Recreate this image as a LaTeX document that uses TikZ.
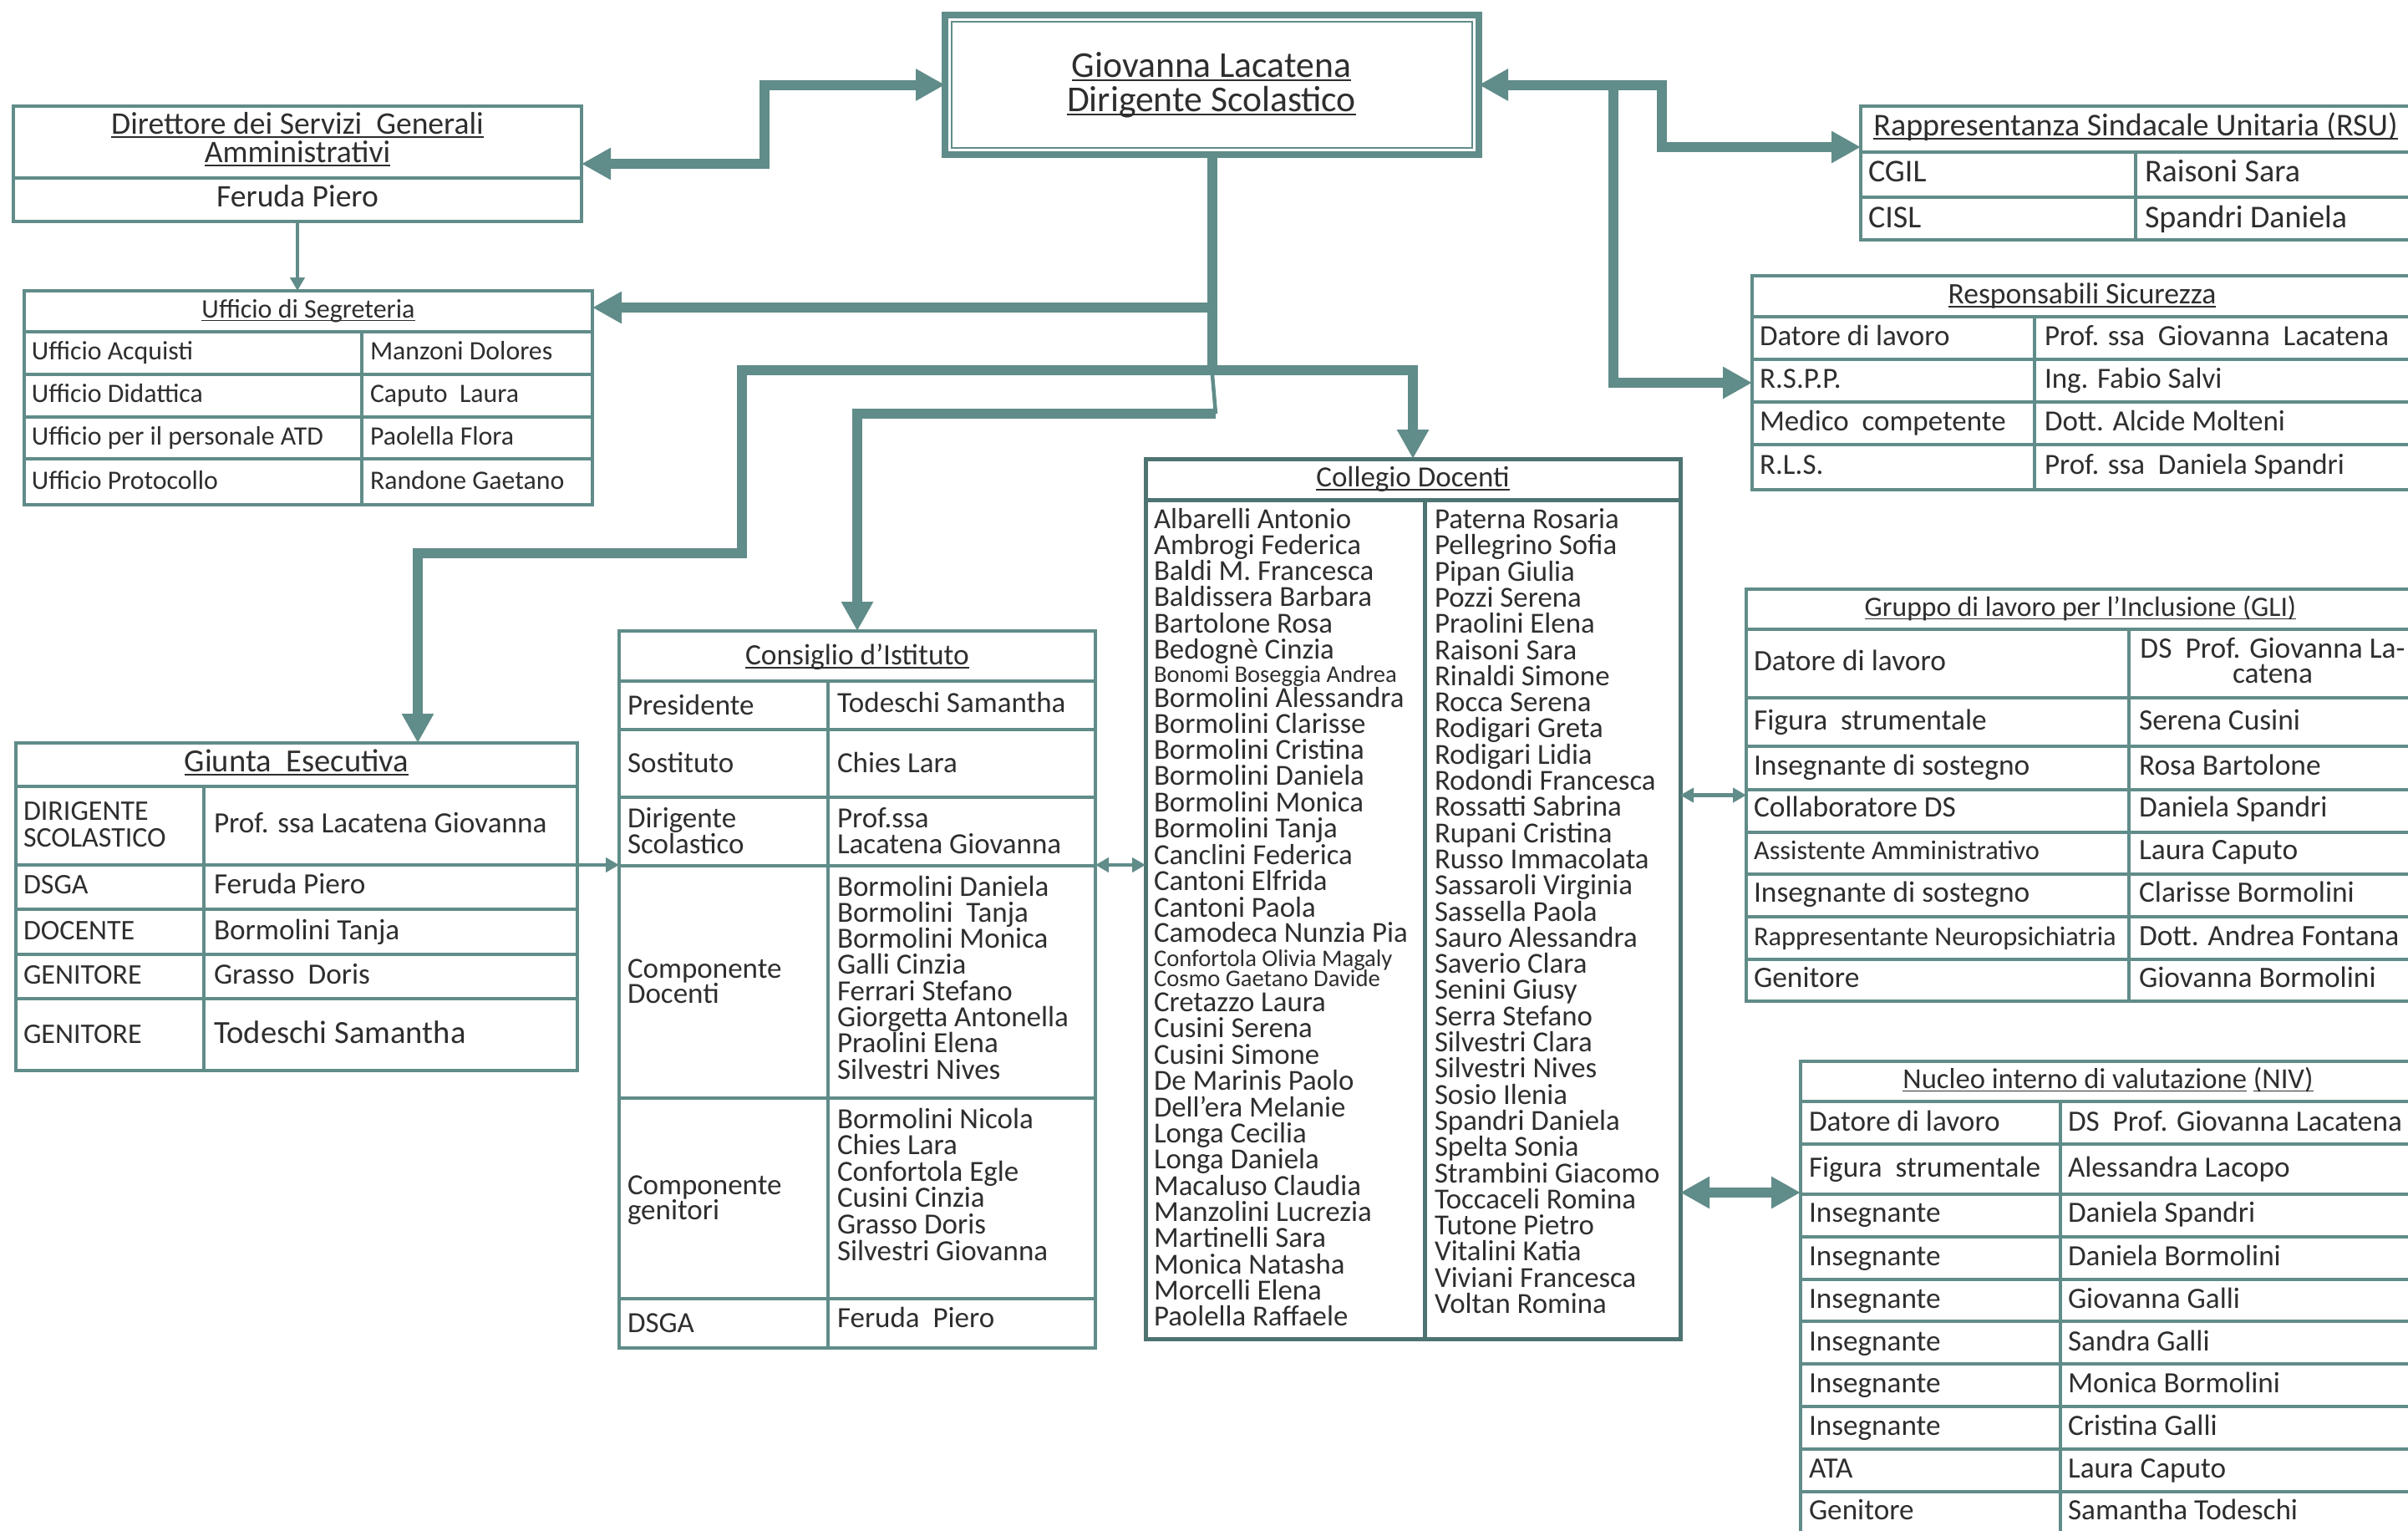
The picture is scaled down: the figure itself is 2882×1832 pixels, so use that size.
\documentclass[tikz,border=0pt]{standalone}
\usepackage{fontspec}
\setmainfont{Carlito}
\usetikzlibrary{arrows.meta}
\definecolor{tl}{RGB}{96,140,137}
\definecolor{tld}{RGB}{78,116,114}
\definecolor{txc}{RGB}{46,46,46}
\newcommand{\UL}[1]{\setbox0=\hbox{#1}\rlap{\vrule height -0.08em depth \dimexpr0.08em+0.85pt\relax width \wd0}\box0\relax}
\newcounter{txn}
\newcommand{\Tx}[4]{\stepcounter{txn}\node[txt,anchor=base west] (tx\arabic{txn}) at (#1,#2) {\fontsize{#3}{#3}\selectfont #4};}
\newcommand{\Tc}[4]{\stepcounter{txn}\node[txt,anchor=base] (tx\arabic{txn}) at (#1,#2) {\fontsize{#3}{#3}\selectfont #4};}
\newcommand{\Bx}[6][]{\node[boxst,#1,anchor=north west,minimum width={(#5-#3)*0.5pt},minimum height={(#6-#4)*0.5pt}] (#2) at (#3,#4) {};}
\newcommand{\HL}[4][]{\draw[tbl,#1] (#2,#4) -- (#3,#4);}
\newcommand{\VL}[4][]{\draw[tbl,#1] (#2,#3) -- (#2,#4);}
\tikzset{
  txt/.style={inner sep=0pt,outer sep=0pt,text=txc},
  boxst/.style={draw=tl,line width=2.25pt,inner sep=0pt,outer sep=0pt,fill=white},
  tbl/.style={draw=tl,line width=2.25pt},
  big/.style={draw=tl,line width=6pt},
  bigR/.style={big,-{Triangle[length=17.5pt,width=18pt]}},
  bigLR/.style={big,{Triangle[length=17.5pt,width=18pt]}-{Triangle[length=17.5pt,width=18pt]}},
  thn/.style={draw=tl,line width=2.25pt},
  thnR/.style={thn,-{Triangle[length=8pt,width=8.5pt]}},
  thnLR/.style={thn,{Triangle[length=8pt,width=8.5pt]}-{Triangle[length=8pt,width=8.5pt]}},
}
\begin{document}
\begin{tikzpicture}[x=0.5pt,y=-0.5pt]
\useasboundingbox (0,0) rectangle (2882,1832);
\fill[white] (0,0) rectangle (2882,1832);
\clip (0,0) rectangle (2882,1832);

% ---------- boxes ----------
\Bx[line width=4pt]{ds}{1131}{18}{1770}{185}
\draw[tl,line width=1pt] (1139,26) rectangle (1762,177);
\Tc{1450}{92}{21.8pt}{\UL{Giovanna Lacatena}}
\Tc{1450}{133}{21.8pt}{\UL{Dirigente Scolastico}}

% Direttore
\Bx{dir}{16}{127}{696}{265}
\HL{16}{696}{213}
\Tc{356}{160}{18.8pt}{\UL{Direttore dei Servizi~~Generali}}
\Tc{356}{194}{18.8pt}{\UL{Amministrativi}}
\Tc{356}{247}{18.8pt}{Feruda Piero}

% Ufficio di Segreteria
\Bx{uff}{29}{348}{709}{604}
\HL{29}{709}{397}\HL{29}{709}{448}\HL{29}{709}{499}\HL{29}{709}{549}
\VL{433}{397}{604}
\Tc{369}{380}{16pt}{\UL{Ufficio di Segreteria}}
\Tx{38}{430}{15.9pt}{Ufficio Acquisti}\Tx{443}{430}{15.9pt}{Manzoni Dolores}
\Tx{38}{481}{15.9pt}{Ufficio Didattica}\Tx{443}{481}{15.9pt}{Caputo~~Laura}
\Tx{38}{532}{15.9pt}{Ufficio per il personale ATD}\Tx{443}{532}{15.9pt}{Paolella Flora}
\Tx{38}{585}{15.9pt}{Ufficio Protocollo}\Tx{443}{585}{15.9pt}{Randone Gaetano}

% Giunta Esecutiva
\Bx{giu}{19}{889}{691}{1281}
\HL{19}{691}{941}\HL{19}{691}{1035}\HL{19}{691}{1088}\HL{19}{691}{1142}\HL{19}{691}{1195}
\VL{244}{941}{1281}
\Tc{355}{923}{19.3pt}{\UL{Giunta~~Esecutiva}}
\Tx{28}{981}{17pt}{DIRIGENTE}\Tx{28}{1013}{17pt}{SCOLASTICO}
\Tx{256}{996}{17.6pt}{Prof. ssa Lacatena Giovanna}
\Tx{28}{1069}{17pt}{DSGA}\Tx{256}{1069}{17.6pt}{Feruda Piero}
\Tx{28}{1124}{17pt}{DOCENTE}\Tx{256}{1124}{17.6pt}{Bormolini Tanja}
\Tx{28}{1177}{17pt}{GENITORE}\Tx{256}{1177}{17.6pt}{Grasso~~Doris}
\Tx{28}{1248}{17pt}{GENITORE}\Tx{256}{1248}{19.3pt}{Todeschi Samantha}

% Consiglio d'Istituto
\Bx{con}{741}{755}{1311}{1613}
\HL{741}{1311}{815}\HL{741}{1311}{873}\HL{741}{1311}{954}\HL{741}{1311}{1036}\HL{741}{1311}{1314}\HL{741}{1311}{1554}
\VL{991}{815}{1613}
\Tc{1026}{795}{17.7pt}{\UL{Consiglio d’Istituto}}
\Tx{751}{855}{17.5pt}{Presidente}\Tx{1002}{852}{17.5pt}{Todeschi Samantha}
\Tx{751}{924}{17.5pt}{Sostituto}\Tx{1002}{924}{17.5pt}{Chies Lara}
\Tx{751}{990}{17.5pt}{Dirigente}\Tx{751}{1021}{17.5pt}{Scolastico}
\Tx{1002}{990}{17.5pt}{Prof.ssa}\Tx{1002}{1021}{17.5pt}{Lacatena Giovanna}
\Tx{751}{1170}{17.5pt}{Componente}\Tx{751}{1200}{17.5pt}{Docenti}
\foreach \n [count=\i from 0] in {Bormolini Daniela,Bormolini~~Tanja,Bormolini Monica,Galli Cinzia,Ferrari Stefano,Giorgetta Antonella,Praolini Elena,Silvestri Nives}
  {\Tx{1002}{1072+31.3*\i}{17.5pt}{\n}}
\Tx{751}{1429}{17.5pt}{Componente}\Tx{751}{1459}{17.5pt}{genitori}
\foreach \n [count=\i from 0] in {Bormolini Nicola,Chies Lara,Confortola Egle,Cusini Cinzia,Grasso Doris,Silvestri Giovanna}
  {\Tx{1002}{1350+31.6*\i}{17.5pt}{\n}}
\Tx{751}{1594}{17.5pt}{DSGA}\Tx{1002}{1588}{17.5pt}{Feruda~~Piero}

% Collegio Docenti
\Bx[draw=tld,line width=2.5pt]{col}{1371}{549}{2011}{1602}
\HL[draw=tld,line width=2.5pt]{1371}{2011}{598}
\VL[draw=tld,line width=2.5pt]{1705}{598}{1602}
\Tc{1691}{582}{17.5pt}{\UL{Collegio Docenti}}
\foreach \y/\n/\s in {632/Albarelli Antonio/17.4pt,663/Ambrogi Federica/17.4pt,694/Baldi M. Francesca/17.4pt,725/Baldissera Barbara/17.4pt,757/Bartolone Rosa/17.4pt,788/Bedognè Cinzia/17.4pt,816/Bonomi Boseggia Andrea/14.3pt,846/Bormolini Alessandra/17.4pt,877/Bormolini Clarisse/17.4pt,908/Bormolini Cristina/17.4pt,939/Bormolini Daniela/17.4pt,971/Bormolini Monica/17.4pt,1002/Bormolini Tanja/17.4pt,1034/Canclini Federica/17.4pt,1065/Cantoni Elfrida/17.4pt,1097/Cantoni Paola/17.4pt,1127/Camodeca Nunzia Pia/17.4pt,1156/Confortola Olivia Magaly/14.3pt,1180/Cosmo Gaetano Davide/14.3pt,1210/Cretazzo Laura/17.4pt,1241/Cusini Serena/17.4pt,1273/Cusini Simone/17.4pt,1304/De Marinis Paolo/17.4pt,1336/Dell’era Melanie/17.4pt,1367/Longa Cecilia/17.4pt,1398/Longa Daniela/17.4pt,1430/Macaluso Claudia/17.4pt,1461/Manzolini Lucrezia/17.4pt,1492/Martinelli Sara/17.4pt,1524/Monica Natasha/17.4pt,1555/Morcelli Elena/17.4pt,1586/Paolella Raffaele/17.4pt}
  {\Tx{1381}{\y}{\s}{\n}}
\foreach \n [count=\i from 0] in {Paterna Rosaria,Pellegrino Sofia,Pipan Giulia,Pozzi Serena,Praolini Elena,Raisoni Sara,Rinaldi Simone,Rocca Serena,Rodigari Greta,Rodigari Lidia,Rodondi Francesca,Rossatti Sabrina,Rupani Cristina,Russo Immacolata,Sassaroli Virginia,Sassella Paola,Sauro Alessandra,Saverio Clara,Senini Giusy,Serra Stefano,Silvestri Clara,Silvestri Nives,Sosio Ilenia,Spandri Daniela,Spelta Sonia,Strambini Giacomo,Toccaceli Romina,Tutone Pietro,Vitalini Katia,Viviani Francesca,Voltan Romina}
  {\Tx{1717}{632.5+31.3*\i}{17.4pt}{\n}}

% RSU
\Bx{rsu}{2227}{127}{2888}{287}
\HL{2227}{2888}{182}\HL{2227}{2888}{236}
\VL{2556}{182}{287}
\Tc{2556}{162}{19pt}{\UL{Rappresentanza Sindacale Unitaria (RSU)}}
\Tx{2236}{217}{19pt}{CGIL}\Tx{2567}{217}{19pt}{Raisoni Sara}
\Tx{2236}{272}{19pt}{CISL}\Tx{2567}{272}{19pt}{Spandri Daniela}

% Responsabili Sicurezza
\Bx{resp}{2097}{330}{2890}{586}
\HL{2097}{2890}{379}\HL{2097}{2890}{430}\HL{2097}{2890}{481}\HL{2097}{2890}{532}
\VL{2435}{379}{586}
\Tc{2492}{363}{17.8pt}{\UL{Responsabili Sicurezza}}
\Tx{2106}{413}{17.5pt}{Datore di lavoro}\Tx{2447}{413}{17.5pt}{Prof. ssa~~Giovanna~~Lacatena}
\Tx{2106}{464}{17.5pt}{R.S.P.P.}\Tx{2447}{464}{17.5pt}{Ing. Fabio Salvi}
\Tx{2106}{515}{17.5pt}{Medico~~competente}\Tx{2447}{515}{17.5pt}{Dott. Alcide Molteni}
\Tx{2106}{567}{17.5pt}{R.L.S.}\Tx{2447}{567}{17.5pt}{Prof. ssa~~Daniela Spandri}

% GLI
\Bx{gli}{2090}{705}{2892}{1198}
\foreach \y in {753,835,893,945,996,1046,1097,1148}{\HL{2090}{2892}{\y}}
\VL{2548}{753}{1198}
\Tc{2490}{737}{16.8pt}{\UL{Gruppo di lavoro per l’Inclusione (GLI)}}
\Tx{2099}{802}{17.7pt}{Datore di lavoro}
\Tc{2720}{787}{17.7pt}{DS~~Prof. Giovanna La-}\Tc{2720}{817}{17.7pt}{catena}
\Tx{2099}{873}{17.7pt}{Figura~~strumentale}\Tx{2560}{873}{17.7pt}{Serena Cusini}
\Tx{2099}{927}{17.7pt}{Insegnante di sostegno}\Tx{2560}{927}{17.7pt}{Rosa Bartolone}
\Tx{2099}{977}{17.7pt}{Collaboratore DS}\Tx{2560}{977}{17.7pt}{Daniela Spandri}
\Tx{2099}{1028}{16.2pt}{Assistente Amministrativo}\Tx{2560}{1028}{17.7pt}{Laura Caputo}
\Tx{2099}{1079}{17.7pt}{Insegnante di sostegno}\Tx{2560}{1079}{17.7pt}{Clarisse Bormolini}
\Tx{2099}{1131}{16.2pt}{Rappresentante Neuropsichiatria}\Tx{2560}{1131}{17.7pt}{Dott. Andrea Fontana}
\Tx{2099}{1181}{17.7pt}{Genitore}\Tx{2560}{1181}{17.7pt}{Giovanna Bormolini}

% NIV
\Bx{niv}{2155}{1270}{2894}{1850}
\foreach \y in {1318,1369,1429,1480,1531,1581,1632,1683,1734,1785}{\HL{2155}{2894}{\y}}
\VL{2466}{1318}{1850}
\Tc{2523}{1302}{17.3pt}{\UL{Nucleo interno di valutazione}\ \UL{(NIV)}}
\foreach \y/\a/\b in {1353/Datore di lavoro/DS~~Prof. Giovanna Lacatena,1408/Figura~~strumentale/Alessandra Lacopo,1462/Insegnante/Daniela Spandri,1514/Insegnante/Daniela Bormolini,1565/Insegnante/Giovanna Galli,1616/Insegnante/Sandra Galli,1666/Insegnante/Monica Bormolini,1717/Insegnante/Cristina Galli,1768/ATA/Laura Caputo,1818/Genitore/Samantha Todeschi}
  {\Tx{2165}{\y}{17.6pt}{\a}\Tx{2475}{\y}{17.6pt}{\b}}

% ---------- connectors ----------
\coordinate (jA) at (915,101.5);
\draw[bigLR] (ds.west) -- (jA) |- (dir.east);
\coordinate (jB) at (1989,176);
\draw[bigLR] (ds.east) -| (jB) -- (rsu.west |- jB);
\coordinate (jC) at (1931,101.5);
\draw[bigR] (jC) |- (resp.west);

\coordinate (jT) at (1450.5,443);
\coordinate (jU) at (1450.5,368);
\coordinate (jL) at (888,443);
\coordinate (jG) at (500,662);
\coordinate (jK) at (1455,495);
\draw[big] (ds.south) -- (jT);
\draw[bigR] (jU) -- (uff.east |- jU);
\draw[bigR] (jL) -| (col.north);
\draw[bigR] (jT) -- (jL) |- (jG) -- (giu.north -| jG);
\draw[thn] (jT) -- (jK);
\draw[bigR] (jK) -| (con.north);

\draw[thnR] (dir.south) -- (uff.north -| dir.south);
\coordinate (jD) at (0,1035);
\draw[thnR] (giu.east |- jD) -- (con.west |- jD);
\draw[thnLR] (con.east |- jD) -- (col.west |- jD);
\draw[thnLR] (col.east |- gli.west) -- (gli.west);
\coordinate (jN) at (0,1427);
\draw[bigLR] (col.east |- jN) -- (niv.west |- jN);
\end{tikzpicture}
\end{document}
